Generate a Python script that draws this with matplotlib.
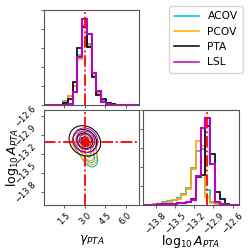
import numpy as np
import matplotlib
matplotlib.use("Agg")
import matplotlib.pyplot as plt
from matplotlib.ticker import FixedLocator, LinearLocator, NullFormatter

# ---------------- data ----------------
series = ["ACOV", "PCOV", "PTA", "LSL"]
colors = ["c", "orange", "k", "m"]

gamma_range = [0.0, 7.0]
logA_range = [-14.0, -12.5]
gamma_ticks = [1.5, 3.0, 4.5, 6.0]
logA_ticks = [-13.8, -13.5, -13.2, -12.9, -12.6]
truth_gamma = 3.0
truth_logA = -13.0

# 20-bin histogram heights of gamma_PTA
gamma_acov = [0, 0, 0, 0.3, 4.3, 8.6, 19, 49.6, 78, 61, 29, 12.6, 4.3, 2, 1, 0, 0, 0, 0, 0]
gamma_pcov = [0, 0, 0, 0.3, 3.5, 8.6, 19, 46, 80, 59, 29, 11.5, 3.5, 1.5, 0.5, 0, 0, 0, 0, 0]
gamma_pta = [0, 0, 0, 0.5, 2, 6, 22.6, 56.6, 77.6, 57.6, 27.6, 10.3, 6, 2, 1, 0.3, 0, 0, 0, 0]
gamma_lsl = [0, 0, 0, 0, 0.5, 1.5, 12.6, 47.6, 86, 70.3, 31.6, 13.6, 3.3, 1, 0.5, 0, 0, 0, 0, 0]

# 20-bin histogram heights of log10 A_PTA
logA_acov = [0, 0.3, 0.5, 1, 2.5, 4, 5, 7, 11, 17, 36, 53, 55, 15, 3, 1, 0, 0, 0, 0]
logA_pcov = [0, 0.3, 0.5, 1, 2, 3, 5, 6, 10, 16, 35, 63, 58, 8, 2, 0.5, 0, 0, 0, 0]
logA_pta = [0, 0, 0.3, 0.5, 0.5, 1, 1, 1.5, 2, 3, 6, 27, 29, 78, 50, 13, 6, 1, 0, 0]
logA_lsl = [0, 0, 0.3, 0.5, 0.5, 1, 1, 1.5, 2, 3, 5, 28, 76, 85, 40, 3, 1, 0, 0, 0]

# 2-D posterior shape per series: main blob and tail blob
# (gamma centre, logA centre, gamma sd, logA sd, correlation, weight)
blob_acov = [(2.95, -13.02, 0.45, 0.09, -0.2, 0.6), (3.30, -13.22, 0.38, 0.11, -0.4, 0.4)]
blob_pcov = [(2.90, -13.02, 0.45, 0.09, -0.2, 0.6), (3.25, -13.19, 0.38, 0.11, -0.4, 0.4)]
blob_pta = [(3.00, -12.99, 0.58, 0.12, -0.15, 1.0)]
blob_lsl = [(3.05, -12.98, 0.45, 0.097, -0.1, 1.0)]

gamma_hists = [gamma_acov, gamma_pcov, gamma_pta, gamma_lsl]
logA_hists = [logA_acov, logA_pcov, logA_pta, logA_lsl]
blobs = [blob_acov, blob_pcov, blob_pta, blob_lsl]
sigmas = np.array([0.5, 1.0, 1.5, 2.0])
levels_mass = 1.0 - np.exp(-0.5 * sigmas ** 2)

# ---------------- figure ----------------
fig = plt.figure(figsize=(2.49, 2.49), dpi=100)
ax_g = fig.add_axes([0.177, 0.578, 0.382, 0.382])
ax_2d = fig.add_axes([0.177, 0.177, 0.382, 0.382])
ax_a = fig.add_axes([0.574, 0.177, 0.386, 0.382])

nb = 20
g_edges = np.linspace(gamma_range[0], gamma_range[1], nb + 1)
a_edges = np.linspace(logA_range[0], logA_range[1], nb + 1)
g_cent = 0.5 * (g_edges[1:] + g_edges[:-1])
a_cent = 0.5 * (a_edges[1:] + a_edges[:-1])

lws = [1.2, 1.2, 1.2, 1.5]
for h, c, lw in zip(gamma_hists, colors, lws):
    ax_g.hist(g_cent, bins=g_edges, weights=h, histtype="step", color=c, lw=lw)
for h, c, lw in zip(logA_hists, colors, lws):
    ax_a.hist(a_cent, bins=a_edges, weights=h, histtype="step", color=c, lw=lw)

gmax = max(max(h) for h in gamma_hists)
amax = max(max(h) for h in logA_hists)
ax_g.set_xlim(*gamma_range)
ax_g.set_ylim(0, 1.1 * gmax)
ax_a.set_xlim(*logA_range)
ax_a.set_ylim(0, 1.1 * amax)

# 2-D contours
gg, aa = np.meshgrid(np.linspace(gamma_range[0], gamma_range[1], 400),
                     np.linspace(logA_range[0], logA_range[1], 400))
for bl, c in zip(blobs, colors):
    dens = np.zeros_like(gg)
    for (mg, ma, sg, sa, rho, w) in bl:
        zg = (gg - mg) / sg
        za = (aa - ma) / sa
        q = (zg ** 2 - 2 * rho * zg * za + za ** 2) / (1 - rho ** 2)
        dens += w * np.exp(-0.5 * q) / (sg * sa * np.sqrt(1 - rho ** 2))
    flat = np.sort(dens.ravel())[::-1]
    cum = np.cumsum(flat)
    cum /= cum[-1]
    lv = sorted(flat[np.searchsorted(cum, m)] for m in levels_mass)
    ax_2d.contour(gg, aa, dens, levels=lv, colors=c, linewidths=0.75)

ax_2d.set_xlim(*gamma_range)
ax_2d.set_ylim(*logA_range)

# truths
tkw = dict(color="red", ls="-.", lw=1.3)
ax_g.axvline(truth_gamma, **tkw)
ax_2d.axvline(truth_gamma, **tkw)
ax_2d.axhline(truth_logA, **tkw)
ax_2d.plot(truth_gamma, truth_logA, "s", color="red", ms=4.5)
ax_a.axvline(truth_logA, **tkw)

# ticks
ax_g.xaxis.set_major_locator(FixedLocator(gamma_ticks))
ax_2d.xaxis.set_major_locator(FixedLocator(gamma_ticks))
ax_2d.yaxis.set_major_locator(FixedLocator(logA_ticks))
ax_a.xaxis.set_major_locator(FixedLocator(logA_ticks))
for ax in (ax_g, ax_a):
    ax.yaxis.set_major_locator(LinearLocator(6))
    ax.yaxis.set_major_formatter(NullFormatter())
ax_g.xaxis.set_major_formatter(NullFormatter())

for ax in (ax_g, ax_2d, ax_a):
    ax.tick_params(labelsize=6, length=2.5, width=0.6, color="#444444", pad=2)
    for s in ax.spines.values():
        s.set_color("#555555")
        s.set_linewidth(0.8)
for lab in ax_2d.get_xticklabels() + ax_2d.get_yticklabels() + ax_a.get_xticklabels():
    lab.set_rotation(45)
for lab in ax_2d.get_xticklabels() + ax_a.get_xticklabels():
    lab.set_ha("center")
    lab.set_va("top")
for lab in ax_2d.get_yticklabels():
    lab.set_ha("right")
    lab.set_va("center")

ax_2d.set_xlabel(r"$\gamma_{PTA}$", fontsize=9)
ax_2d.set_ylabel(r"$\log_{10}A_{PTA}$", fontsize=9)
ax_a.set_xlabel(r"$\log_{10}A_{PTA}$", fontsize=9)
ax_2d.xaxis.set_label_coords(0.5, -0.29)
ax_2d.yaxis.set_label_coords(-0.24, 0.5)
ax_a.xaxis.set_label_coords(0.5, -0.29)

handles = [plt.Line2D([], [], color=c, lw=1.1) for c in colors]
fig.legend(handles, series, loc="upper right", bbox_to_anchor=(0.997, 0.997),
           fontsize=7.7, handlelength=2.3, borderpad=0.5, labelspacing=0.5,
           handletextpad=0.8)

fig.savefig("out.png", dpi=100)
